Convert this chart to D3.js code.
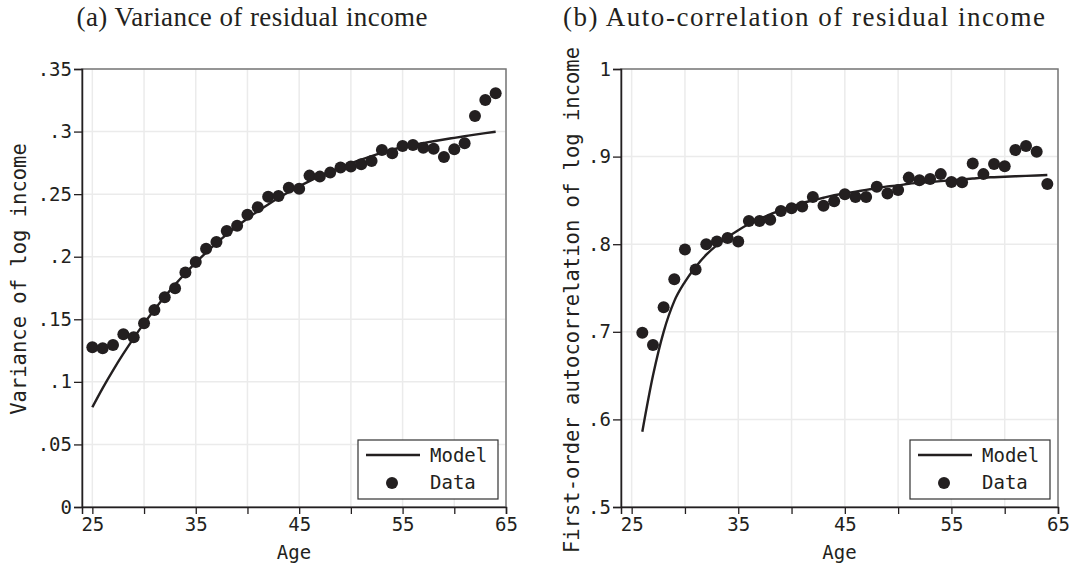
<!DOCTYPE html>
<html>
<head>
<meta charset="utf-8">
<script src="https://cdn.jsdelivr.net/npm/d3@7"></script>
<style>
  body { margin: 0; background: #fff; }
  text { fill: #231f20; }
  .mono { font-family: "DejaVu Sans Mono", monospace; font-size: 19px; }
  .ytl { font-family: "DejaVu Sans Mono", monospace; font-size: 20.5px; }
  .ttl { font-family: "Liberation Serif", "Times New Roman", serif; font-size: 27px; }
</style>
</head>
<body>
<svg id="chart" width="1074" height="570"></svg>
<script>
// ---- data ----
var agesVar = [25,26,27,28,29,30,31,32,33,34,35,36,37,38,39,40,41,42,43,44,
               45,46,47,48,49,50,51,52,53,54,55,56,57,58,59,60,61,62,63,64];
var varData = [.1276,.1268,.1295,.1380,.1356,.1468,.1574,.1676,.1748,.1873,
               .1958,.2064,.2118,.2205,.2248,.2336,.2395,.2480,.2485,.2552,
               .2544,.2648,.2640,.2672,.2712,.2720,.2739,.2765,.2853,.2826,
               .2885,.2893,.2871,.2863,.2797,.2858,.2906,.3124,.3252,.3306];
var varModel = [.0797,.0950,.1092,.1225,.1350,.1467,.1577,.1680,.1777,.1868,
                .1953,.2033,.2108,.2178,.2244,.2306,.2364,.2418,.2469,.2517,
                .2562,.2604,.2643,.2680,.2714,.2746,.2776,.2804,.2830,.2854,
                .2877,.2893,.2908,.2923,.2937,.2950,.2963,.2976,.2988,.2999];

var agesAc = [26,27,28,29,30,31,32,33,34,35,36,37,38,39,40,41,42,43,44,45,
              46,47,48,49,50,51,52,53,54,55,56,57,58,59,60,61,62,63,64];
var acData = [.699,.685,.728,.760,.794,.771,.800,.803,.807,.803,
              .8265,.8265,.828,.838,.841,.843,.854,.844,.849,.857,
              .854,.854,.8656,.858,.862,.876,.873,.8744,.880,.871,
              .8707,.892,.880,.8916,.889,.9075,.912,.9056,.8687];
var acModel = [.586,.650,.700,.735,.757,.774,.788,.799,.808,.816,
               .823,.829,.834,.839,.843,.847,.850,.853,.856,.858,
               .860,.862,.864,.866,.867,.869,.870,.871,.872,.873,
               .874,.875,.876,.8765,.877,.8775,.878,.8785,.879];

var xTicks = [25,30,35,40,45,50,55,60,65];
var xLabels = [25,35,45,55,65];
var varTicks = [0,.05,.1,.15,.2,.25,.3,.35];
var acTicks = [.5,.6,.7,.8,.9,1];
var legendLabels = ["Model", "Data"];

var ink = "#231f20";
var svg = d3.select("#chart");

var fmt = function (v) {
  return v === 0 ? "0" : String(v).replace(/^0/, "");
};

function drawPanel(p) {
  var x = d3.scaleLinear().domain([24, 65]).range([p.left, p.right]);
  var y = d3.scaleLinear().domain(p.yDomain).range([507, 69]);
  var g = svg.append("g");

  // grid
  g.selectAll(".gx").data(xTicks).enter().append("line")
    .attr("x1", x).attr("x2", x).attr("y1", y.range()[0]).attr("y2", y.range()[1])
    .attr("stroke", "#ebebeb").attr("stroke-width", 1.5);
  g.selectAll(".gy").data(p.yTicks.slice(1)).enter().append("line")
    .attr("x1", p.left).attr("x2", p.right).attr("y1", y).attr("y2", y)
    .attr("stroke", "#ebebeb").attr("stroke-width", 1.5);

  // frame (top/right grey)
  g.append("rect").attr("x", p.left).attr("y", 69)
    .attr("width", p.right - p.left).attr("height", 507 - 69)
    .attr("fill", "none").attr("stroke", "#777").attr("stroke-width", 1.5);

  // axes
  var xAxis = d3.axisBottom(x).tickValues(xTicks).tickSize(7)
    .tickFormat(function (d) { return xLabels.indexOf(d) >= 0 ? d : ""; });
  var yAxis = d3.axisLeft(y).tickValues(p.yTicks).tickSize(8).tickFormat(fmt);

  var ax = g.append("g").attr("transform", "translate(0,507)").call(xAxis);
  var ay = g.append("g").attr("transform", "translate(" + p.left + ",0)").call(yAxis);
  [ax, ay].forEach(function (a) {
    a.select(".domain").attr("stroke", ink).attr("stroke-width", 1.5);
    a.selectAll(".tick line").attr("stroke", ink).attr("stroke-width", 1.3);
    a.selectAll(".tick text").attr("class", "mono").attr("fill", ink);
    a.attr("font-family", null).attr("font-size", null);
  });
  ax.selectAll(".tick text").attr("y", 0).attr("dy", null).attr("transform", "translate(0,24)");
  ay.selectAll(".tick text").attr("x", -10);

  // model line
  g.append("path")
    .datum(p.ages.map(function (a, i) { return [a, p.model[i]]; }))
    .attr("fill", "none").attr("stroke", ink).attr("stroke-width", 2.4)
    .attr("d", d3.line().x(function (d) { return x(d[0]); })
      .y(function (d) { return y(d[1]); }).curve(d3.curveMonotoneX));

  // data points
  g.selectAll(".pt").data(p.ages.map(function (a, i) { return [a, p.data[i]]; }))
    .enter().append("circle")
    .attr("cx", function (d) { return x(d[0]); })
    .attr("cy", function (d) { return y(d[1]); })
    .attr("r", 6).attr("fill", ink);

  // titles
  svg.append("text").attr("class", "ttl").attr("x", p.titleX).attr("y", 26)
    .attr("text-anchor", "middle").attr("textLength", p.titleLen)
    .attr("lengthAdjust", "spacing").text(p.title);
  svg.append("text").attr("class", "ytl").attr("text-anchor", "middle")
    .attr("transform", "translate(" + p.yLabX + "," + p.yLabY + ") rotate(-90)")
    .text(p.yLabel);
  svg.append("text").attr("class", "mono").attr("text-anchor", "middle")
    .attr("x", (p.left + p.right) / 2).attr("y", 559).text("Age");

  // legend
  var lx = p.right - 148, ly = 440;
  var lg = g.append("g").attr("transform", "translate(" + lx + "," + ly + ")");
  lg.append("rect").attr("width", 140).attr("height", 59)
    .attr("fill", "#fff").attr("stroke", "#333").attr("stroke-width", 1.2);
  lg.append("line").attr("x1", 8).attr("x2", 62).attr("y1", 15).attr("y2", 15)
    .attr("stroke", ink).attr("stroke-width", 2.4);
  lg.append("circle").attr("cx", 34).attr("cy", 43).attr("r", 6).attr("fill", ink);
  lg.selectAll(".lt").data(legendLabels).enter().append("text")
    .attr("class", "mono").attr("x", 72)
    .attr("y", function (d, i) { return i === 0 ? 22 : 49; })
    .text(function (d) { return d; });
}

drawPanel({
  left: 82, right: 506, yDomain: [0, .35], yTicks: varTicks,
  ages: agesVar, data: varData, model: varModel,
  title: "(a) Variance of residual income", titleX: 252, titleLen: 351,
  yLabel: "Variance of log income", yLabX: 26, yLabY: 279
});
drawPanel({
  left: 621, right: 1058, yDomain: [.5, 1], yTicks: acTicks,
  ages: agesAc, data: acData, model: acModel,
  title: "(b) Auto-correlation of residual income", titleX: 804, titleLen: 482,
  yLabel: "First-order autocorrelation of log income", yLabX: 579, yLabY: 300
});
</script>
</body>
</html>
